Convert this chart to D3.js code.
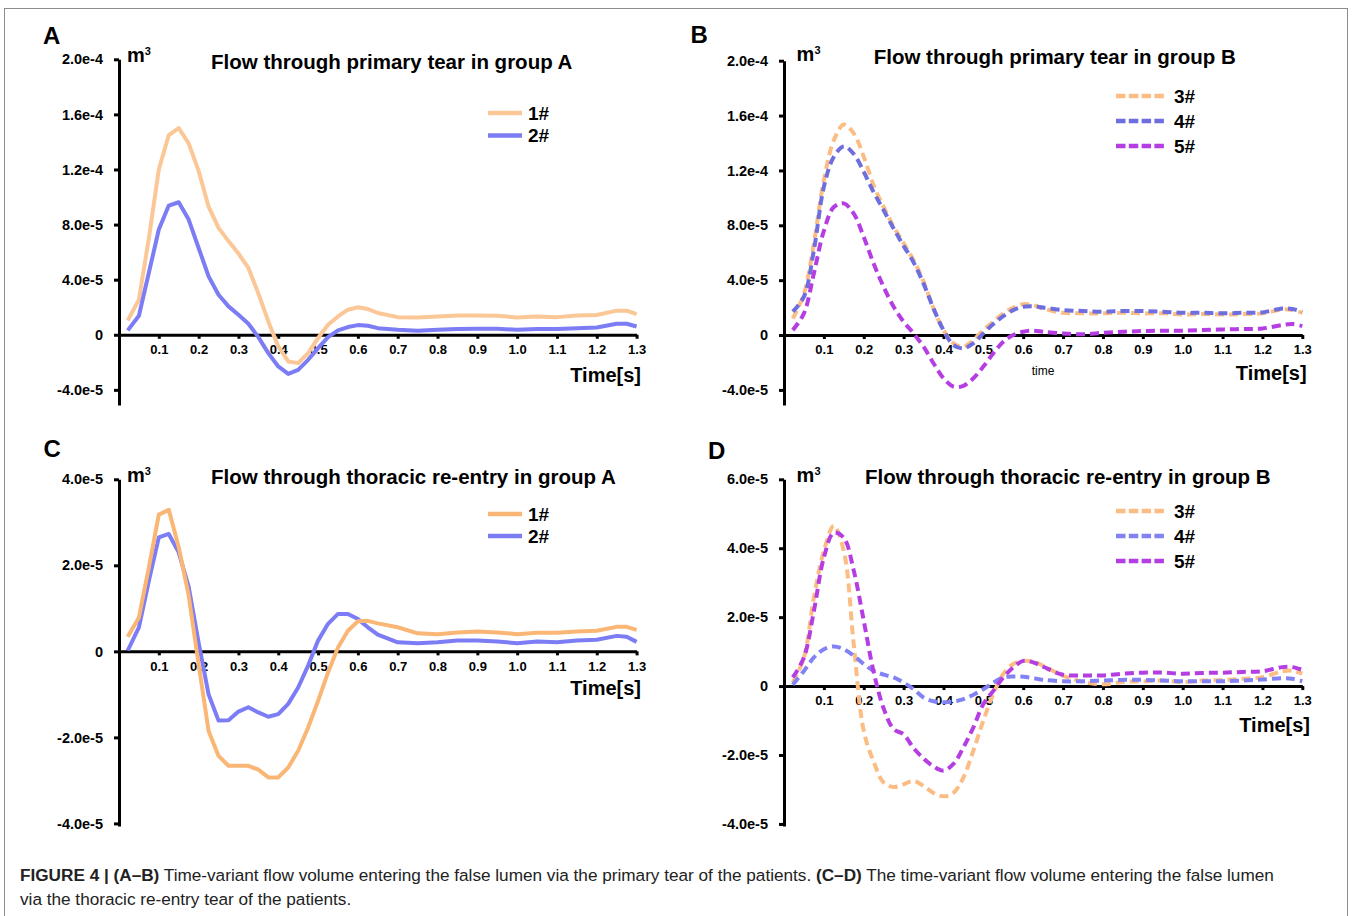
<!DOCTYPE html>
<html>
<head>
<meta charset="utf-8">
<script src="https://cdn.jsdelivr.net/npm/d3@7"></script>
<style>
  body { margin: 0; background: #fff; }
  svg text { font-family: "Liberation Sans", Arial, sans-serif; }
</style>
</head>
<body>
<svg id="fig" width="1352" height="916"></svg>
<script>
// all flow values are in units of 1e-5 m^3
var time = [0.022, 0.05, 0.075, 0.1, 0.125, 0.15, 0.175, 0.2, 0.225, 0.25, 0.275, 0.3, 0.325, 0.35,
  0.375, 0.4, 0.425, 0.45, 0.475, 0.5, 0.525, 0.55, 0.575, 0.6, 0.625, 0.65, 0.7, 0.75, 0.8, 0.85,
  0.9, 0.95, 1.0, 1.05, 1.1, 1.15, 1.2, 1.25, 1.275, 1.3];

// primary tear, group A
var tearA1 = [1.04, 2.55, 7.0, 12.0, 14.5, 15.0, 13.9, 11.9, 9.3, 7.76, 6.8, 5.9, 4.85, 3.0,
  0.97, -0.85, -1.94, -2.06, -1.33, -0.24, 0.73, 1.33, 1.82, 2.0, 1.87, 1.58, 1.28, 1.26, 1.33, 1.4,
  1.4, 1.38, 1.26, 1.33, 1.28, 1.4, 1.43, 1.75, 1.75, 1.5];
var tearA2 = [0.32, 1.38, 4.5, 7.64, 9.38, 9.62, 8.36, 6.3, 4.24, 2.9, 2.06, 1.45, 0.8, -0.17,
  -1.33, -2.3, -2.84, -2.55, -1.82, -0.97, -0.17, 0.32, 0.56, 0.7, 0.65, 0.48, 0.36, 0.29, 0.36, 0.41,
  0.44, 0.44, 0.36, 0.41, 0.41, 0.48, 0.53, 0.8, 0.8, 0.6];

// primary tear, group B
var tearB3 = [1.2, 3.0, 6.7, 11.3, 14.2, 15.35, 14.7, 13.0, 10.9, 9.33, 7.9, 6.7, 5.45, 3.9,
  1.94, 0.36, -0.6, -0.85, -0.36, 0.36, 0.97, 1.58, 2.0, 2.25, 2.18, 1.94, 1.62, 1.58, 1.58, 1.62,
  1.58, 1.58, 1.5, 1.53, 1.5, 1.53, 1.58, 1.87, 1.82, 1.62];
var tearB4 = [1.7, 2.8, 6.2, 10.8, 13.0, 13.75, 13.2, 11.9, 10.4, 9.1, 7.76, 6.5, 5.3, 3.75,
  1.94, 0.36, -0.73, -0.97, -0.6, 0.12, 0.8, 1.38, 1.82, 2.06, 2.1, 2.0, 1.82, 1.75, 1.7, 1.75,
  1.75, 1.7, 1.62, 1.62, 1.58, 1.62, 1.65, 1.94, 1.9, 1.7];
var tearB5 = [0.36, 1.58, 4.5, 7.6, 9.33, 9.6, 8.85, 7.15, 5.2, 3.5, 2.06, 0.97, 0.12, -0.85,
  -2.06, -3.15, -3.76, -3.7, -3.15, -2.3, -1.33, -0.48, 0.0, 0.24, 0.32, 0.24, 0.12, 0.05, 0.17, 0.24,
  0.29, 0.32, 0.32, 0.36, 0.41, 0.44, 0.48, 0.73, 0.8, 0.65];

// thoracic re-entry, group A
var reA1 = [0.34, 0.79, 1.95, 3.18, 3.29, 2.42, 1.3, -0.3, -1.85, -2.43, -2.66, -2.66, -2.66, -2.75,
  -2.93, -2.93, -2.7, -2.31, -1.77, -1.15, -0.49, 0.09, 0.48, 0.7, 0.71, 0.65, 0.56, 0.42, 0.4, 0.44,
  0.46, 0.44, 0.4, 0.43, 0.43, 0.46, 0.48, 0.57, 0.57, 0.5];
var reA2 = [0.02, 0.56, 1.64, 2.65, 2.73, 2.3, 1.5, 0.2, -1.0, -1.61, -1.6, -1.4, -1.3, -1.42,
  -1.52, -1.46, -1.22, -0.84, -0.33, 0.25, 0.64, 0.87, 0.87, 0.75, 0.56, 0.39, 0.21, 0.19, 0.21, 0.25,
  0.25, 0.23, 0.19, 0.23, 0.21, 0.25, 0.27, 0.36, 0.34, 0.22];

// thoracic re-entry, group B
var reB3 = [0.1, 0.83, 2.57, 3.92, 4.65, 3.92, 1.2, -1.3, -2.2, -2.8, -2.93, -2.85, -2.75, -2.9,
  -3.1, -3.2, -3.1, -2.65, -1.87, -1.0, -0.23, 0.35, 0.64, 0.73, 0.71, 0.59, 0.3, 0.12, 0.05, 0.12,
  0.14, 0.16, 0.12, 0.16, 0.18, 0.21, 0.26, 0.43, 0.45, 0.36];
var reB4 = [0.04, 0.44, 0.83, 1.07, 1.15, 1.07, 0.88, 0.64, 0.44, 0.33, 0.25, 0.1, -0.09, -0.33,
  -0.44, -0.47, -0.45, -0.38, -0.25, -0.09, 0.1, 0.25, 0.28, 0.27, 0.23, 0.18, 0.14, 0.14, 0.16, 0.18,
  0.18, 0.16, 0.14, 0.14, 0.14, 0.16, 0.19, 0.23, 0.21, 0.14];
var reB5 = [0.25, 0.83, 2.18, 3.73, 4.45, 4.3, 3.35, 1.9, 0.4, -0.65, -1.25, -1.4, -1.8, -2.1,
  -2.33, -2.45, -2.26, -1.78, -1.2, -0.52, -0.14, 0.25, 0.54, 0.73, 0.69, 0.56, 0.33, 0.31, 0.31, 0.36,
  0.39, 0.39, 0.36, 0.38, 0.39, 0.41, 0.43, 0.55, 0.55, 0.47];

var xTicks = [0.1, 0.2, 0.3, 0.4, 0.5, 0.6, 0.7, 0.8, 0.9, 1.0, 1.1, 1.2, 1.3];
var xTickLabels = ["0.1", "0.2", "0.3", "0.4", "0.5", "0.6", "0.7", "0.8", "0.9", "1.0", "1.1", "1.2", "1.3"];
var tearTicks = [20, 16, 12, 8, 4, 0, -4];
var tearTickLabels = ["2.0e-4", "1.6e-4", "1.2e-4", "8.0e-5", "4.0e-5", "0", "-4.0e-5"];
var reATicks = [4, 2, 0, -2, -4];
var reATickLabels = ["4.0e-5", "2.0e-5", "0", "-2.0e-5", "-4.0e-5"];
var reBTicks = [6, 4, 2, 0, -2, -4];
var reBTickLabels = ["6.0e-5", "4.0e-5", "2.0e-5", "0", "-2.0e-5", "-4.0e-5"];

var orangeA = "#fbc797", orangeC = "#f9b675", blue = "#7c7cf4",
    orangeDash = "#fbbd83", blueDashB = "#6e6ede", blueDashD = "#8282f4", purple = "#b53ee3";

var svg = d3.select("#fig");

svg.append("rect")
  .attr("x", 4.5).attr("y", 8.5).attr("width", 1343).attr("height", 1000)
  .attr("fill", "none").attr("stroke", "#8c8c8c").attr("stroke-width", 1);

var panels = [
  { letter: "A", letterPos: [43, 43.5], xRange: [119, 636.6], yDomain: [-5.1, 20], yRange: [405, 59.3],
    ticks: tearTicks, tickLabels: tearTickLabels, unitPos: [127, 62],
    title: "Flow through primary tear in group A", titlePos: [211, 68.5], timePos: [641, 382],
    legend: { x1: 488, x2: 522, tx: 528, ys: [113, 135.5] }, curve: d3.curveLinear, drawOrder: [0, 1],
    series: [{ name: "1#", values: tearA1, color: orangeA }, { name: "2#", values: tearA2, color: blue }] },
  { letter: "B", letterPos: [690.5, 43.3], xRange: [784, 1302.3], yDomain: [-5.1, 20], yRange: [405, 60.7],
    ticks: tearTicks, tickLabels: tearTickLabels, unitPos: [796.6, 61],
    title: "Flow through primary tear in group B", titlePos: [873.7, 63.5], timePos: [1306.6, 379.5],
    legend: { x1: 1116, x2: 1164, tx: 1174, ys: [96, 121, 146] }, curve: d3.curveCatmullRom, drawOrder: [0, 1, 2],
    dashed: true, extra: { text: "time", x: 1043, y: 374.5 },
    series: [{ name: "3#", values: tearB3, color: orangeDash }, { name: "4#", values: tearB4, color: blueDashB },
             { name: "5#", values: tearB5, color: purple }] },
  { letter: "C", letterPos: [43.4, 457], xRange: [119, 636.6], yDomain: [-4.06, 4], yRange: [826, 479.3],
    ticks: reATicks, tickLabels: reATickLabels, unitPos: [127, 482],
    title: "Flow through thoracic re-entry in group A", titlePos: [211, 484], timePos: [641, 695],
    legend: { x1: 488, x2: 522, tx: 528, ys: [514, 536] }, curve: d3.curveLinear, drawOrder: [1, 0],
    series: [{ name: "1#", values: reA1, color: orangeC }, { name: "2#", values: reA2, color: blue }] },
  { letter: "D", letterPos: [708, 459.3], xRange: [784, 1302.3], yDomain: [-4.06, 6], yRange: [826, 479.3],
    ticks: reBTicks, tickLabels: reBTickLabels, unitPos: [796.6, 482],
    title: "Flow through thoracic re-entry in group B", titlePos: [865, 484], timePos: [1310, 732],
    legend: { x1: 1116, x2: 1164, tx: 1174, ys: [511, 536, 561] }, curve: d3.curveCatmullRom, drawOrder: [0, 1, 2],
    dashed: true,
    series: [{ name: "3#", values: reB3, color: orangeDash }, { name: "4#", values: reB4, color: blueDashD },
             { name: "5#", values: reB5, color: purple }] }
];

function drawPanel(p) {
  var g = svg.append("g");
  var x = d3.scaleLinear().domain([0, 1.3]).range(p.xRange);
  var y = d3.scaleLinear().domain(p.yDomain).range(p.yRange);

  g.append("text")
    .attr("x", p.letterPos[0]).attr("y", p.letterPos[1])
    .style("font-size", "24px").style("font-weight", "bold")
    .text(p.letter);

  var unit = g.append("text")
    .attr("x", p.unitPos[0]).attr("y", p.unitPos[1])
    .style("font-size", "20px").style("font-weight", "bold");
  unit.append("tspan").text("m");
  unit.append("tspan").attr("dy", -7).style("font-size", "11px").text("3");

  g.append("text")
    .attr("x", p.titlePos[0]).attr("y", p.titlePos[1])
    .style("font-size", "20.5px").style("font-weight", "bold")
    .text(p.title);

  var yAxis = g.append("g")
    .attr("transform", "translate(" + x(0) + ",0)")
    .call(d3.axisLeft(y).tickValues(p.ticks)
      .tickFormat(function(d, i) { return p.tickLabels[i]; })
      .tickSize(5).tickPadding(11).tickSizeOuter(0));
  yAxis.selectAll("path, line").attr("stroke", "#000").attr("stroke-width", 3);
  yAxis.selectAll("text")
    .attr("fill", "#000")
    .style("font-size", "14.5px").style("font-weight", "bold")
    .style("font-family", "'Liberation Sans', Arial, sans-serif");

  var xAxis = g.append("g")
    .attr("transform", "translate(0," + y(0) + ")")
    .call(d3.axisBottom(x).tickValues(xTicks)
      .tickFormat(function(d, i) { return xTickLabels[i]; })
      .tickSize(4).tickPadding(6).tickSizeOuter(0));
  xAxis.selectAll("path, line").attr("stroke", "#000").attr("stroke-width", 3);
  xAxis.selectAll("text")
    .attr("fill", "#000")
    .style("font-size", "13px").style("font-weight", "bold")
    .style("font-family", "'Liberation Sans', Arial, sans-serif");

  g.append("text")
    .attr("x", p.timePos[0]).attr("y", p.timePos[1])
    .attr("text-anchor", "end")
    .style("font-size", "20px").style("font-weight", "bold")
    .text("Time[s]");

  if (p.extra) {
    g.append("text")
      .attr("x", p.extra.x).attr("y", p.extra.y)
      .attr("text-anchor", "middle")
      .style("font-size", "12px")
      .text(p.extra.text);
  }

  var line = d3.line()
    .curve(p.curve)
    .x(function(d) { return x(d[0]); })
    .y(function(d) { return y(d[1]); });

  p.drawOrder.forEach(function(k) {
    var s = p.series[k];
    g.append("path")
      .datum(time.map(function(t, i) { return [t, s.values[i]]; }))
      .attr("d", line)
      .attr("fill", "none")
      .attr("stroke", s.color)
      .attr("stroke-width", 4)
      .attr("stroke-dasharray", p.dashed ? "9,5" : null)
      .attr("stroke-linejoin", "round");
  });

  p.series.forEach(function(s, i) {
    var ly = p.legend.ys[i];
    g.append("line")
      .attr("x1", p.legend.x1).attr("x2", p.legend.x2)
      .attr("y1", ly).attr("y2", ly)
      .attr("stroke", s.color).attr("stroke-width", 4.5)
      .attr("stroke-dasharray", p.dashed ? "9.5,3.3" : null);
    g.append("text")
      .attr("x", p.legend.tx).attr("y", ly + 6.5)
      .style("font-size", "19px").style("font-weight", "bold")
      .text(s.name);
  });
}

panels.forEach(drawPanel);

// caption
var cap1 = svg.append("text").style("font-size", "17px").attr("fill", "#222");
cap1.append("tspan").style("font-weight", "bold").text("FIGURE 4 | (A\u2013B)");
cap1.append("tspan").text(" Time-variant flow volume entering the false lumen via the primary tear of the patients. ");
cap1.append("tspan").style("font-weight", "bold").text("(C\u2013D)");
cap1.append("tspan").text(" The time-variant flow volume entering the false lumen");
var k = 1255 / cap1.node().getComputedTextLength();
cap1.attr("transform", "translate(20,881) scale(" + k + ",1)");

svg.append("text").style("font-size", "17px").attr("fill", "#222")
  .attr("transform", "translate(20,905) scale(" + k + ",1)")
  .text("via the thoracic re-entry tear of the patients.");
</script>
</body>
</html>
